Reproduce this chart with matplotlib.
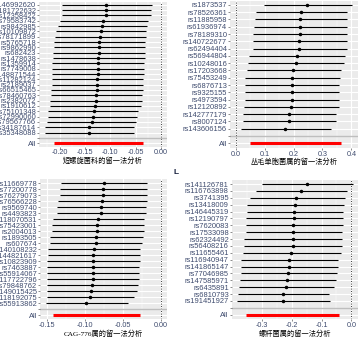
import matplotlib
matplotlib.use("Agg")
import matplotlib.pyplot as plt
import numpy as np

plt.rcParams['font.family'] = ['Liberation Sans', 'Noto Sans CJK SC', 'DejaVu Sans']

# 短螺旋菌科
snp1 = ["rs146992620", "rs181722632", "rs12358422", "rs79583742", "rs9842985",
        "rs10109872", "rs78171899", "rs5765718", "rs9862990", "rs682423",
        "rs1478638", "rs1359914", "rs7749008", "rs148871544", "rs11282124",
        "rs2189037", "rs66515465", "rs78460763", "rs2382072", "rs1910612",
        "rs75101348", "rs72990060", "rs79567766", "rs34187614", "rs35348088"]
b1 = [-0.109, -0.109, -0.109, -0.114, -0.117, -0.119, -0.121, -0.122, -0.122, -0.122,
      -0.124, -0.125, -0.125, -0.125, -0.127, -0.127, -0.127, -0.129, -0.129, -0.130,
      -0.133, -0.135, -0.137, -0.142, -0.142]
lo1 = [-0.195, -0.195, -0.195, -0.200, -0.203, -0.207, -0.209, -0.210, -0.211, -0.212,
       -0.213, -0.214, -0.214, -0.215, -0.215, -0.215, -0.217, -0.217, -0.218, -0.219,
       -0.222, -0.222, -0.224, -0.228, -0.229]
hi1 = [-0.019, -0.021, -0.021, -0.025, -0.027, -0.029, -0.030, -0.031, -0.031, -0.031,
       -0.032, -0.033, -0.034, -0.034, -0.035, -0.035, -0.035, -0.037, -0.037, -0.039,
       -0.045, -0.047, -0.049, -0.053, -0.053]
all1 = (-0.122, -0.210, -0.035)

# 丛毛单胞菌属
snp2 = ["rs1873537", "rs78526361", "rs11885958", "rs61936974", "rs78189310",
        "rs140722677", "rs62494404", "rs56944804", "rs10248016", "rs17203668",
        "rs75453249", "rs6876713", "rs9325155", "rs4973594", "rs12120892",
        "rs142777179", "rs8007124", "rs143606156"]
b2 = [0.248, 0.225, 0.222, 0.221, 0.221, 0.219, 0.219, 0.211, 0.207, 0.199,
      0.194, 0.193, 0.193, 0.193, 0.190, 0.184, 0.184, 0.171]
lo2 = [0.096, 0.069, 0.067, 0.063, 0.060, 0.058, 0.058, 0.046, 0.043, 0.037,
       0.032, 0.032, 0.032, 0.031, 0.029, 0.025, 0.025, 0.017]
hi2 = [0.403, 0.386, 0.386, 0.386, 0.386, 0.384, 0.384, 0.378, 0.375, 0.365,
       0.360, 0.357, 0.357, 0.357, 0.357, 0.348, 0.348, 0.329]
all2 = (0.206, 0.050, 0.363)

# CAG-776属
snp3 = ["rs11669778", "rs77200778", "rs76279073", "rs76566228", "rs9569740",
        "rs4493823", "rs118070531", "rs75423001", "rs2004013", "rs1893505",
        "rs607674", "rs140108232", "rs144821617", "rs10823909", "rs7463887",
        "rs55914067", "rs117722796", "rs79848762", "rs149015425", "rs118192075",
        "rs55913862"]
b3 = [-0.075, -0.077, -0.077, -0.078, -0.079, -0.079, -0.083, -0.085, -0.085, -0.086,
      -0.086, -0.088, -0.089, -0.089, -0.089, -0.090, -0.090, -0.091, -0.092, -0.094,
      -0.099]
lo3 = [-0.132, -0.133, -0.133, -0.136, -0.137, -0.137, -0.143, -0.144, -0.144, -0.146,
       -0.146, -0.149, -0.149, -0.150, -0.150, -0.150, -0.150, -0.150, -0.151, -0.151,
       -0.152]
hi3 = [-0.018, -0.019, -0.019, -0.019, -0.020, -0.020, -0.022, -0.023, -0.023, -0.024,
       -0.025, -0.028, -0.028, -0.028, -0.029, -0.029, -0.029, -0.030, -0.032, -0.036,
       -0.044]
all3 = (-0.085, -0.143, -0.028)

# 螺杆菌属
snp4 = ["rs141126781", "rs116763898", "rs3741395", "rs13418009", "rs146445319",
        "rs12190797", "rs7620083", "rs17533098", "rs62324492", "rs56408216",
        "rs11655461", "rs116940947", "rs141865147", "rs77046985", "rs147585971",
        "rs6435891", "rs6810793", "rs191451927"]
b4 = [-0.150, -0.168, -0.184, -0.189, -0.192, -0.194, -0.195, -0.195, -0.197, -0.197,
      -0.202, -0.208, -0.210, -0.212, -0.215, -0.219, -0.228, -0.230]
lo4 = [-0.300, -0.319, -0.341, -0.349, -0.350, -0.355, -0.355, -0.355, -0.360, -0.360,
       -0.363, -0.371, -0.371, -0.371, -0.372, -0.377, -0.380, -0.382]
hi4 = [0.004, -0.014, -0.020, -0.025, -0.027, -0.027, -0.028, -0.030, -0.031, -0.031,
       -0.035, -0.045, -0.045, -0.047, -0.051, -0.059, -0.075, -0.072]
all4 = (-0.197, -0.352, -0.042)

titles = ["短螺旋菌科的留一法分析", "丛毛单胞菌属的留一法分析",
          "CAG-776属的留一法分析", "螺杆菌属的留一法分析"]
ticks = [[-0.20, -0.15, -0.10, -0.05, 0.00], [0.0, 0.1, 0.2, 0.3, 0.4],
         [-0.15, -0.10, -0.05, 0.00], [-0.3, -0.2, -0.1, 0.0]]
tickfmt = ["%.2f", "%.1f", "%.2f", "%.1f"]

W, H = 361, 338
# panel boxes in pixels: x0, y0, x1, y1
boxes = [(39, 1.5, 167, 146.5), (230, 0.5, 358, 147.7),
         (40, 179.4, 166.7, 318.9), (231.7, 179.9, 358.3, 318.8)]
data = [(snp1, b1, lo1, hi1, all1), (snp2, b2, lo2, hi2, all2),
        (snp3, b3, lo3, hi3, all3), (snp4, b4, lo4, hi4, all4)]

txtcol = '#3e4b6e'
fig = plt.figure(figsize=(W / 100, H / 100), dpi=100)

for k in range(4):
    x0, y0, x1, y1 = boxes[k]
    ax = fig.add_axes([x0 / W, 1 - y1 / H, (x1 - x0) / W, (y1 - y0) / H])
    snp, b, lo, hi, tot = data[k]
    n = len(snp)
    ypos = np.arange(n + 1, 1, -1)
    ax.set_facecolor('#EBEBEB')
    for s in ax.spines.values():
        s.set_visible(False)

    xmin = min(min(lo), 0)
    xmax = max(max(hi), 0)
    r = xmax - xmin
    ax.set_xlim(xmin - 0.05 * r, xmax + 0.05 * r)
    ax.set_ylim(-0.6, n + 1.6)

    # grid
    tk = ticks[k]
    step = tk[1] - tk[0]
    minors = np.arange(tk[0] - step / 2, tk[-1] + step, step)
    for m in minors:
        ax.axvline(m, color='white', lw=0.35, zorder=0)
    for t in tk:
        ax.axvline(t, color='white', lw=0.8, zorder=0)
    for yy in range(0, n + 2):
        ax.axhline(yy, color='white', lw=0.8, zorder=0)

    ax.axvline(0, color='black', ls=(0, (1, 2)), lw=0.6, zorder=1)
    ax.axhline(1, color='#BEBEBE', lw=1.0, zorder=1)
    ax.hlines(ypos, lo, hi, color='black', lw=0.8, zorder=2)
    ax.plot(b, ypos, 'o', color='black', ms=1.5, zorder=3)
    ax.hlines([0], [tot[1]], [tot[2]], color='#FF0000', lw=2.2, zorder=2)

    ax.set_yticks(list(ypos) + [1, 0])
    ax.set_yticklabels(snp + ["", "All"], fontsize=5.4, color=txtcol)
    ax.set_xticks(tk)
    ax.set_xticklabels([tickfmt[k] % t for t in tk], fontsize=5.2, color=txtcol)
    ax.tick_params(length=1.3, width=0.4, color='#333333', pad=0.8)
    if k == 2:
        ax.set_xlabel(titles[k], fontsize=5.2, labelpad=0.5,
                      family=['Liberation Serif', 'Noto Sans CJK SC'])
    else:
        ax.set_xlabel(titles[k], fontsize=5.2, labelpad=0.5,
                      family=['Noto Sans CJK SC', 'DejaVu Sans'])

fig.text(176 / W, 1 - 172 / H, "L", fontsize=6, fontweight='bold',
         color='#1a2340', ha='center', va='center')

fig.savefig("out.png", dpi=100)
